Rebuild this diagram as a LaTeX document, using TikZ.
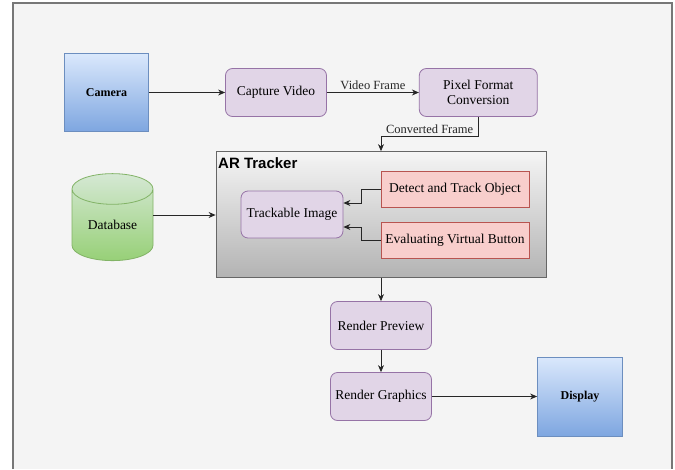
\documentclass[tikz,border=0pt]{standalone}
\usepackage{fontspec}
\setmainfont{Liberation Serif}
\newfontfamily\headfont{Liberation Sans}
\usetikzlibrary{shapes.geometric,arrows.meta}

\definecolor{canvas}{HTML}{F4F4F4}
\definecolor{frameline}{HTML}{777777}
\definecolor{procfill}{HTML}{E1D5E7}
\definecolor{procline}{HTML}{9673A6}
\definecolor{devtop}{HTML}{DAE8FC}
\definecolor{devbottom}{HTML}{7EA6E0}
\definecolor{devline}{HTML}{6C8EBF}
\definecolor{taskfill}{HTML}{F8CECC}
\definecolor{taskline}{HTML}{B85450}
\definecolor{dbtop}{HTML}{D5E8D4}
\definecolor{dbbottom}{HTML}{97D077}
\definecolor{dbline}{HTML}{82B366}
\definecolor{trktop}{HTML}{F5F5F5}
\definecolor{trkbottom}{HTML}{B3B3B3}
\definecolor{trkline}{HTML}{666666}

\begin{document}
\begin{tikzpicture}[x=1pt, y=-1pt,
    proc/.style={draw=procline, fill=procfill, rounded corners=7pt, line width=0.8pt,
        inner sep=0pt, align=center, font=\fontsize{13.5}{15.5}\selectfont,
        minimum width=101pt, minimum height=48pt},
    device/.style={draw=devline, top color=devtop, bottom color=devbottom, line width=0.8pt,
        inner sep=0pt, font=\fontsize{12}{14}\selectfont\bfseries,
        minimum width=84pt, minimum height=78pt},
    task/.style={draw=taskline, fill=taskfill, line width=0.8pt, inner sep=0pt,
        font=\fontsize{13.5}{15.5}\selectfont, minimum width=148pt, minimum height=36pt},
    lbl/.style={font=\fontsize{12.5}{14}\selectfont, inner sep=2pt},
    arr/.style={-{Stealth[length=7pt,width=6pt]}, line width=0.8pt, black!85}]

    % Canvas
    \useasboundingbox (0,0) rectangle (675,469);
    \fill[white] (0,0) rectangle (675,469);
    \fill[canvas] (13,3) rectangle (672,469);
    \draw[frameline, line width=1.5pt] (13,469) -- (13,3) -- (672,3) -- (672,469);

    % Input side
    \node[device] (camera) at (106.5,92.5) {Camera};
    \node[proc, minimum width=101pt] (capture) at (276,92.5) {Capture Video};
    \node[proc, minimum width=118pt] (pixel) at (478.3,92.5) {Pixel Format\\Conversion};

    % AR tracker group
    \node[draw=trkline, top color=trktop, bottom color=trkbottom, line width=0.8pt,
        minimum width=330pt, minimum height=126pt, inner sep=0pt] (tracker) at (381,214.5) {};
    \node[anchor=west, inner sep=1pt, font=\headfont\fontsize{15}{17}\selectfont\bfseries]
        (trackertitle) at (217,163.5) {AR Tracker};
    \node[proc, minimum width=102pt, minimum height=47pt] (track) at (292,214.5) {Trackable Image};
    \node[task] (detect) at (455,189) {Detect and Track Object};
    \node[task] (evaluate) at (455,240.5) {Evaluating Virtual Button};

    % Database
    \node[cylinder, shape border rotate=90, aspect=0.62, draw=dbline, line width=0.8pt,
        top color=dbtop, bottom color=dbbottom, minimum width=81pt, minimum height=87pt,
        inner sep=0pt, font=\fontsize{13.5}{15.5}\selectfont] (db) at (112.5,225) {Database};

    % Output side
    \node[proc] (preview) at (381,325.5) {Render Preview};
    \node[proc] (graphics) at (381,396.5) {Render Graphics};
    \node[device, minimum width=85pt, minimum height=79pt] (display) at (580,396.5) {Display};

    % Connectors
    \draw[arr] (camera) -- (capture);
    \draw[arr] (capture) -- node[lbl, above] (videolbl) {Video Frame} (pixel);
    \draw[arr] (pixel.south) -- ++(0,19.3) -| node[lbl, above, pos=0.25] (convlbl) {Converted Frame} (tracker.north);
    \draw[arr] (detect.west) -- ++(-19,0) |- ([yshift=11.5pt]track.east);
    \draw[arr] (evaluate.west) -- ++(-19,0) |- ([yshift=-12.5pt]track.east);
    \draw[arr] ([yshift=10pt]db.east) -- ([yshift=10pt]db.east -| tracker.west);
    \draw[arr] (tracker.south) -- (preview.north);
    \draw[arr] (preview.south) -- (graphics.north);
    \draw[arr] (graphics.east) -- (graphics.east -| display.west);
\end{tikzpicture}
\end{document}
